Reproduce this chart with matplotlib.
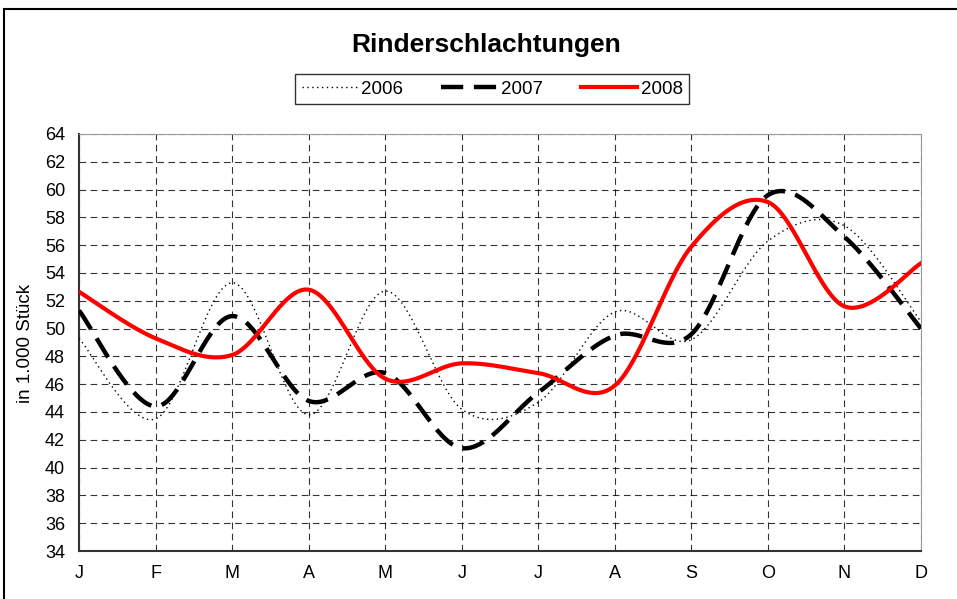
import numpy as np
import matplotlib
matplotlib.use("Agg")
import matplotlib.pyplot as plt
from matplotlib.patches import Rectangle

plt.rcParams['font.family'] = ['Liberation Sans', 'DejaVu Sans']

months = ["J", "F", "M", "A", "M", "J", "J", "A", "S", "O", "N", "D"]
v2006 = [49.3, 43.5, 53.3, 43.8, 52.7, 44.2, 44.7, 51.2, 49.2, 56.3, 57.4, 50.5]
v2007 = [51.3, 44.4, 50.9, 44.8, 46.8, 41.4, 45.4, 49.5, 49.6, 59.6, 56.6, 50.0]
v2008 = [52.65, 49.3, 48.1, 52.8, 46.4, 47.5, 46.8, 45.9, 55.9, 59.1, 51.6, 54.7]


# Excel-like smoothed line: cubic bezier through the points
def smooth(xs, ys, n=40):
    xs = np.asarray(xs, float)
    ys = np.asarray(ys, float)
    px = np.concatenate([[xs[0]], xs, [xs[-1]]])
    py = np.concatenate([[ys[0]], ys, [ys[-1]]])
    outx, outy = [], []
    t = np.linspace(0, 1, n)
    for i in range(1, len(px) - 2):
        p0 = np.array([px[i], py[i]])
        p3 = np.array([px[i + 1], py[i + 1]])
        c1 = p0 + (np.array([px[i + 1], py[i + 1]]) - np.array([px[i - 1], py[i - 1]])) / 6
        c2 = p3 - (np.array([px[i + 2], py[i + 2]]) - np.array([px[i], py[i]])) / 6
        b = ((1 - t) ** 3)[:, None] * p0 + (3 * (1 - t) ** 2 * t)[:, None] * c1 \
            + (3 * (1 - t) * t ** 2)[:, None] * c2 + (t ** 3)[:, None] * p3
        outx.extend(b[:, 0])
        outy.extend(b[:, 1])
    return np.array(outx), np.array(outy)


fig = plt.figure(figsize=(9.57, 5.99), dpi=100)
ax = fig.add_axes([79 / 957, 1 - 551 / 599, (921 - 79) / 957, (551 - 134) / 599])

x = np.arange(len(months))

sx, sy = smooth(x, v2006)
ax.plot(sx, sy, color='black', lw=1.0, linestyle=(0, (1, 2.5)), label='2006', zorder=3)
sx, sy = smooth(x, v2007)
ax.plot(sx, sy, color='black', lw=3.2, linestyle=(0, (5, 2.4)), label='2007', zorder=4)
sx, sy = smooth(x, v2008)
ax.plot(sx, sy, color='#ff0000', lw=3.0, label='2008', zorder=5)

ax.set_xlim(0, 11)
ax.set_ylim(34, 64)
ax.set_yticks(np.arange(34, 65, 2))
ax.set_xticks(x)
ax.set_xticklabels(months)
ax.tick_params(axis='both', labelsize=13, length=0, pad=10)
ax.tick_params(axis='y', pad=10)
ax.grid(True, color='black', linestyle=(0, (6, 4)), lw=0.8, alpha=0.8)
ax.set_axisbelow(True)
for s in ['top', 'right']:
    ax.spines[s].set_color('#999999')
for s in ['left', 'bottom']:
    ax.spines[s].set_color('#333333')
    ax.spines[s].set_linewidth(1.5)

ax.set_ylabel("in 1.000 Stück", fontsize=13.5)
ax.yaxis.set_label_coords(-45 / 842, 0.497)

fig.text(486 / 957, 1 - 45 / 599, "Rinderschlachtungen", fontsize=19,
         fontweight='bold', ha='center', va='center')

leg = fig.legend(loc='center', bbox_to_anchor=(492 / 957, 1 - 89 / 599), ncol=3,
                 frameon=True, fancybox=False, fontsize=13.5, handlelength=3.0,
                 columnspacing=2.0, handletextpad=0.2, borderpad=0.35)
leg.get_frame().set_edgecolor('black')
leg.get_frame().set_linewidth(1.0)

fig.patches.append(Rectangle((4 / 957, -0.01), 0.999, 1 - 9 / 599 + 0.01,
                             transform=fig.transFigure, fill=False,
                             edgecolor='black', lw=1.5))

fig.savefig("out.png", dpi=100)
